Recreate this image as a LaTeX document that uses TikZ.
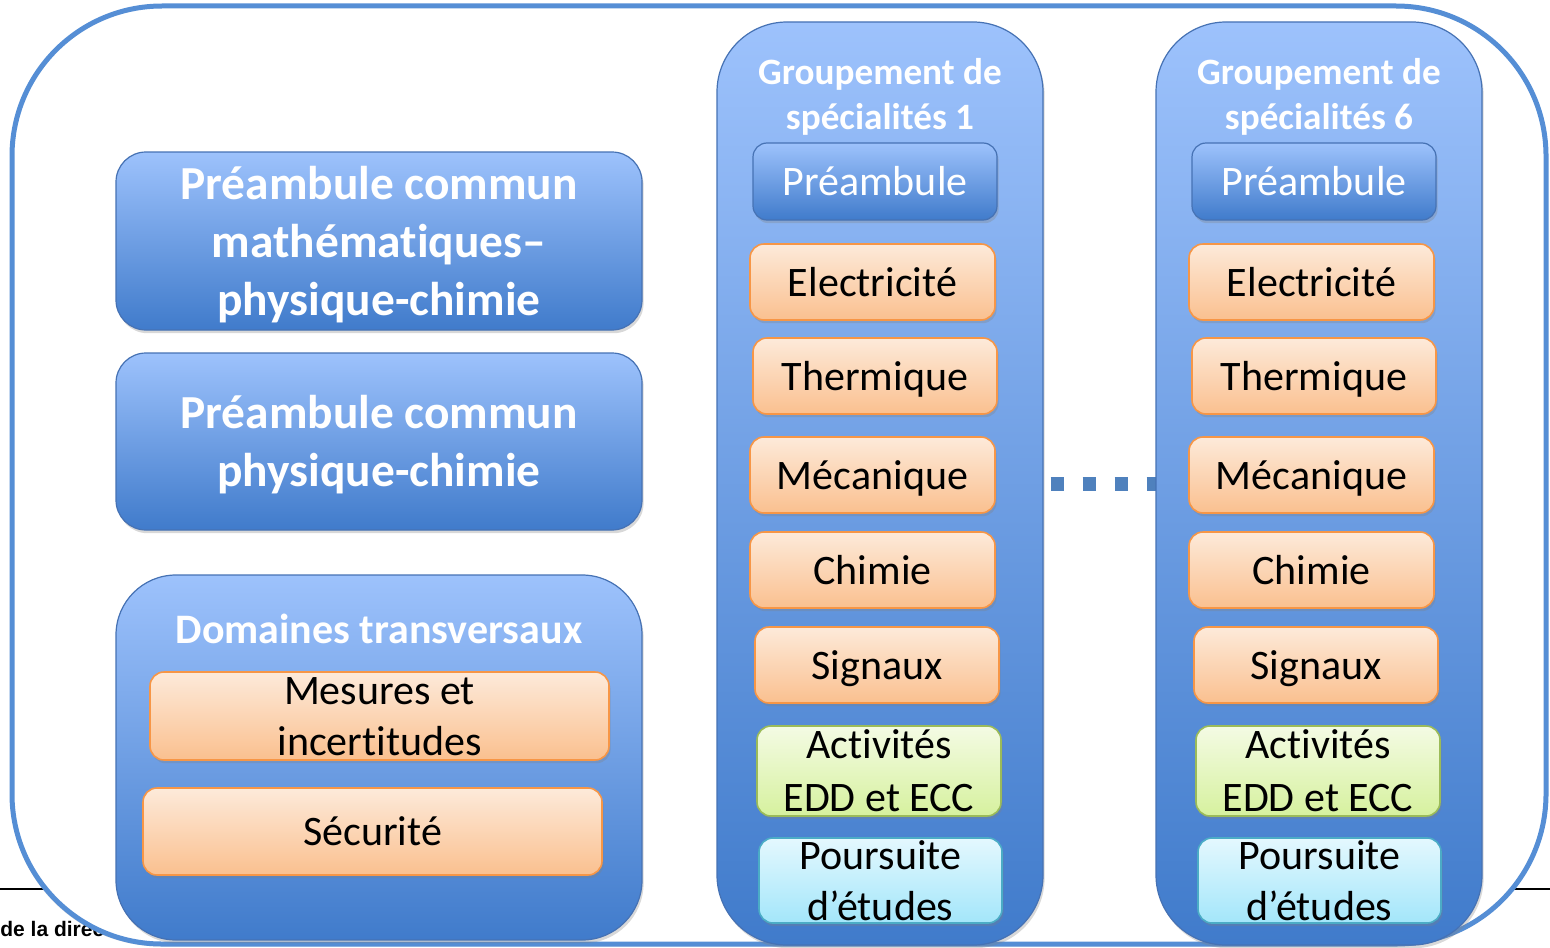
\documentclass[tikz,border=0pt]{standalone}
\usepackage{fontspec}
\setmainfont{Carlito}[Ligatures={NoCommon,NoContextual}]
\newfontfamily\footfont{Liberation Sans}
\usetikzlibrary{shadows}
\newcommand\ppstrut{\rule[-0.26em]{0pt}{1.2em}}
\newcommand\topstrut[1]{\rule{0pt}{#1em}}
\newcommand\botstrut[1]{\rule[-#1em]{0pt}{#1em}}
\definecolor{framebd}{RGB}{85,142,213}
\definecolor{bluetop}{RGB}{157,194,252}
\definecolor{bluebot}{RGB}{64,123,203}
\definecolor{bluebd}{RGB}{70,114,180}
\definecolor{orgtop}{RGB}{253,234,218}
\definecolor{orgbot}{RGB}{250,192,143}
\definecolor{orgbd}{RGB}{247,150,70}
\definecolor{grntop}{RGB}{244,251,228}
\definecolor{grnbot}{RGB}{214,241,158}
\definecolor{grnbd}{RGB}{155,187,89}
\definecolor{cyntop}{RGB}{228,248,254}
\definecolor{cynbot}{RGB}{163,230,250}
\definecolor{cynbd}{RGB}{75,172,198}
\definecolor{dotcol}{RGB}{79,129,189}
\tikzset{
  wh/.style 2 args={minimum width=#1, minimum height=#2},
  pptext/.style={execute at begin node=\ppstrut, execute at end node=\ppstrut},
  shad/.style={drop shadow={opacity=0.3, shadow xshift=0.8pt, shadow yshift=-1.6pt}},
  outerframe/.style={draw=framebd, line width=2.5pt, fill=white, rounded corners=75pt, inner sep=0pt, drop shadow={opacity=0.25, shadow xshift=-0.8pt, shadow yshift=-1.2pt}},
  bigblue/.style={draw=bluebd, line width=0.6pt, top color=bluetop, bottom color=bluebot, rounded corners=15pt, inner sep=0pt, text=white, align=center, font=\bfseries\fontsize{23.7}{29}\selectfont, shad},
  colbox/.style={draw=bluebd, line width=0.6pt, top color=bluetop, bottom color=bluebot, rounded corners=35pt, inner sep=0pt, shad},
  dombox/.style={draw=bluebd, line width=0.6pt, top color=bluetop, bottom color=bluebot, rounded corners=30pt, inner sep=0pt, shad},
  coltitle/.style={text=white, align=center, inner sep=0pt, font=\bfseries\fontsize{18.6}{22.5}\selectfont},
  domtitle/.style={text=white, align=center, inner sep=0pt, font=\bfseries\fontsize{21}{25}\selectfont},
  preb/.style={draw=bluebd, line width=0.6pt, top color=bluetop, bottom color=bluebot, rounded corners=7pt, inner sep=0pt, text=white, align=center, font=\fontsize{21}{25.5}\selectfont, wh={122pt}{38.5pt}, pptext, shad},
  orgbox/.style={draw=orgbd, line width=0.8pt, top color=orgtop, bottom color=orgbot, rounded corners=7pt, inner sep=0pt, text=black, align=center, font=\fontsize{21}{25.5}\selectfont, shad},
  grnbox/.style={draw=grnbd, line width=0.8pt, top color=grntop, bottom color=grnbot, rounded corners=7pt, inner sep=0pt, text=black, align=center, font=\fontsize{21}{26.5}\selectfont, shad},
  cynbox/.style={draw=cynbd, line width=0.8pt, top color=cyntop, bottom color=cynbot, rounded corners=7pt, inner sep=0pt, text=black, align=center, font=\fontsize{21}{25.5}\selectfont, shad},
  dotline/.style={draw=dotcol, line width=7pt, dash pattern=on 6.5pt off 9.5pt, dash phase=12.5pt}
}
\begin{document}
\begin{tikzpicture}[x=0.5pt, y=-0.5pt]
\useasboundingbox (0,0) rectangle (1550,947);
% background slide remnants
\coordinate (fl) at (0,889);
\coordinate (fr) at (1550,889);
\draw[line width=1pt] (fl) -- (fr);
\node[anchor=base west, inner sep=0pt, font=\footfont\bfseries\fontsize{10.5}{12}\selectfont] (foot) at (0,936) {de la direction};
% frame
\node[outerframe, wh={767pt}{469pt}] (frame) at (779,475) {};
% left column
\node[bigblue, wh={263pt}{89pt}] (pcm) at (379,241) {\topstrut{0.93}Préambule commun\\mathématiques–\\physique-chimie\botstrut{0.25}};
\node[bigblue, wh={263pt}{88.5pt}] (pcp) at (379,441.5) {\topstrut{0.93}Préambule commun\\physique-chimie\botstrut{0.25}};
\node[dombox, wh={263pt}{182.5pt}] (dom) at (379,757.5) {};
\node[domtitle] (domt) at (379,629) {Domaines transversaux};
\node[orgbox, wh={229.5pt}{44pt}] (mes) at (379.5,716) {\topstrut{0.76}Mesures et\\incertitudes\botstrut{0.08}};
\node[orgbox, pptext, wh={229.5pt}{43.5pt}] (sec) at (372.5,831.5) {Sécurité};
% column 1
\node[colbox, wh={163pt}{461.5pt}] (col1) at (880,483.5) {};
\node[coltitle] (col1t) at (880,97) {Groupement de\\spécialités 1};
\node[preb] (pre1) at (875,181.5) {Préambule};
\node[orgbox, pptext, wh={122.5pt}{38pt}] (ele1) at (872.5,282) {Electricité};
\node[orgbox, pptext, wh={122pt}{38pt}] (the1) at (875,376) {Thermique};
\node[orgbox, pptext, wh={122.5pt}{38pt}] (mec1) at (872.5,475) {Mécanique};
\node[orgbox, pptext, wh={122.5pt}{38pt}] (chi1) at (872.5,570) {Chimie};
\node[orgbox, pptext, wh={122pt}{38pt}] (sig1) at (877,665) {Signaux};
\node[grnbox, wh={122pt}{45pt}] (act1) at (879,771) {\topstrut{0.76}Activités\\EDD et ECC\botstrut{0.08}};
\node[cynbox, wh={121.5pt}{42.5pt}] (pou1) at (880.5,880.5) {\topstrut{0.75}Poursuite\\d’études\botstrut{0.06}};
% dotted connector
\draw[dotline] (col1.east) -- (1162,483.5) coordinate (dend);
% column 6
\node[colbox, wh={163pt}{461.5pt}] (col6) at (1319,483.5) {};
\node[coltitle] (col6t) at (1319,97) {Groupement de\\spécialités 6};
\node[preb] (pre6) at (1314,181.5) {Préambule};
\node[orgbox, pptext, wh={122.5pt}{38pt}] (ele6) at (1311.5,282) {Electricité};
\node[orgbox, pptext, wh={122pt}{38pt}] (the6) at (1314,376) {Thermique};
\node[orgbox, pptext, wh={122.5pt}{38pt}] (mec6) at (1311.5,475) {Mécanique};
\node[orgbox, pptext, wh={122.5pt}{38pt}] (chi6) at (1311.5,570) {Chimie};
\node[orgbox, pptext, wh={122pt}{38pt}] (sig6) at (1316,665) {Signaux};
\node[grnbox, wh={122pt}{45pt}] (act6) at (1318,771) {\topstrut{0.76}Activités\\EDD et ECC\botstrut{0.08}};
\node[cynbox, wh={121.5pt}{42.5pt}] (pou6) at (1319.5,880.5) {\topstrut{0.75}Poursuite\\d’études\botstrut{0.06}};
\end{tikzpicture}
\end{document}
